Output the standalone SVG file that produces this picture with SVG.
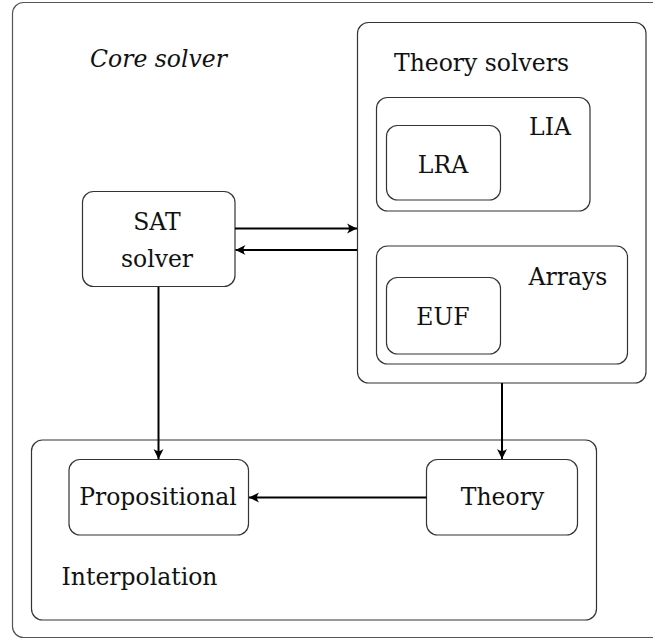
<svg xmlns="http://www.w3.org/2000/svg" width="653" height="639" viewBox="0 0 653 639">
<style>
.box{fill:none;stroke:#333;stroke-width:1.2}
.frame{fill:none;stroke:#555;stroke-width:1.2}
.t{font-family:"DejaVu Serif","Liberation Serif",serif;font-size:23.5px;fill:#111;text-anchor:middle}
.it{font-style:italic}
.c{fill:none;stroke:#000;stroke-width:2}
</style>
<defs>
<marker id="ah" markerUnits="userSpaceOnUse" markerWidth="14" markerHeight="14" viewBox="-12 -7 14 14" refX="0" refY="0" orient="auto">
<path d="M0,0 L-10,-5 Q-6,0 -10,5 Z" fill="#000"/>
</marker>
</defs>
<rect width="653" height="639" fill="#fff"/>
<g id="core">
<rect class="frame" x="12.5" y="2.5" width="700" height="635" rx="11"/>
<text class="t it" x="158.5" y="67">Core solver</text>
</g>
<g id="theory-solvers">
<rect class="box" x="357.5" y="22.5" width="288.5" height="360.5" rx="11"/>
<text class="t" x="481.5" y="71">Theory solvers</text>
</g>
<g id="lia">
<rect class="box" x="376.5" y="97.5" width="213.5" height="113.5" rx="11"/>
<text class="t" x="550" y="135">LIA</text>
</g>
<g id="lra">
<rect class="box" x="386.5" y="125.5" width="114" height="74.5" rx="11"/>
<text class="t" x="443" y="173">LRA</text>
</g>
<g id="arrays">
<rect class="box" x="376.5" y="246" width="251" height="118" rx="11"/>
<text class="t" x="568" y="285">Arrays</text>
</g>
<g id="euf">
<rect class="box" x="386.5" y="277.5" width="114" height="76.5" rx="11"/>
<text class="t" x="443" y="325">EUF</text>
</g>
<g id="sat">
<rect class="box" x="82.5" y="191.5" width="152.5" height="95" rx="11"/>
<text class="t" x="157" y="230">SAT</text>
<text class="t" x="157" y="267">solver</text>
</g>
<g id="interpolation">
<rect class="box" x="31.5" y="440" width="565" height="180" rx="11"/>
<text class="t" x="139.5" y="585">Interpolation</text>
</g>
<g id="propositional">
<rect class="box" x="69" y="459.5" width="179.5" height="75.5" rx="11"/>
<text class="t" x="158" y="505">Propositional</text>
</g>
<g id="theory">
<rect class="box" x="426.5" y="459.5" width="151" height="75.5" rx="11"/>
<text class="t" x="502.5" y="505">Theory</text>
</g>
<g id="connectors">
<line class="c" x1="235" y1="228.5" x2="357" y2="228.5" marker-end="url(#ah)"/>
<line class="c" x1="357" y1="250" x2="235.5" y2="250" marker-end="url(#ah)"/>
<line class="c" x1="158.5" y1="287" x2="158.5" y2="459" marker-end="url(#ah)"/>
<line class="c" x1="502" y1="383" x2="502" y2="459" marker-end="url(#ah)"/>
<line class="c" x1="426.5" y1="497.5" x2="249" y2="497.5" marker-end="url(#ah)"/>
</g>
</svg>
